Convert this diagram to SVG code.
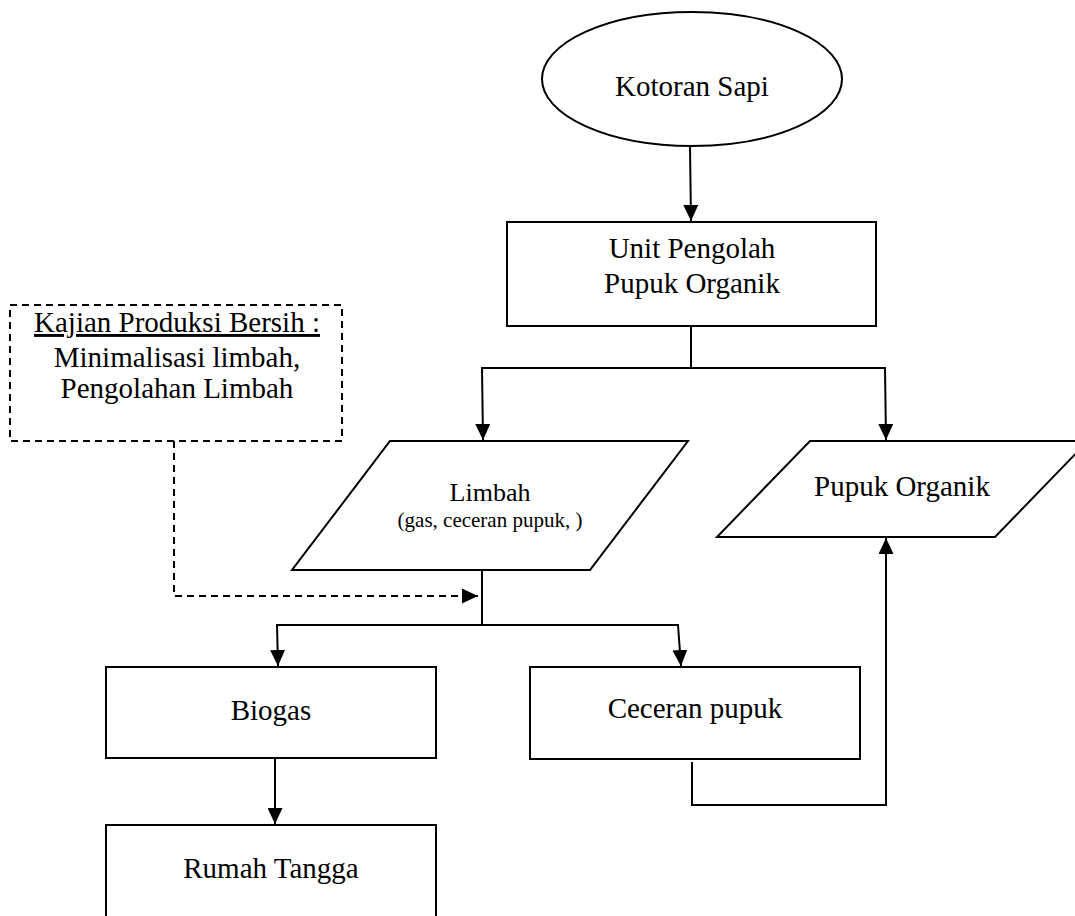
<svg xmlns="http://www.w3.org/2000/svg" width="1075" height="916" viewBox="0 0 1075 916">
<defs>
<style>
.s{fill:#fff;stroke:#000;stroke-width:2}
.c{fill:none;stroke:#000;stroke-width:2}
.d{fill:none;stroke:#000;stroke-width:2;stroke-dasharray:7 5}
.t{font-family:"Liberation Serif","Times New Roman",serif;font-size:29px;fill:#000;text-anchor:middle}
</style>
<marker id="ah" viewBox="0 0 16 15" refX="16" refY="7.5" markerWidth="16" markerHeight="15" markerUnits="userSpaceOnUse" orient="auto">
<path d="M0,0 L16,7.5 L0,15 Z" fill="#000"/>
</marker>
</defs>
<rect width="1075" height="916" fill="#fff"/>
<g id="connectors">
<line class="c" x1="690" y1="147" x2="691" y2="221" marker-end="url(#ah)"/>
<line class="c" x1="691" y1="326" x2="691" y2="368" stroke-width="1.5"/>
<line class="c" x1="481" y1="368" x2="886" y2="368"/>
<line class="c" x1="482" y1="368" x2="483" y2="440" marker-end="url(#ah)"/>
<line class="c" x1="885" y1="368" x2="886" y2="440" marker-end="url(#ah)"/>
<line class="c" x1="482" y1="570" x2="482" y2="625"/>
<line class="c" x1="276" y1="625" x2="679" y2="625"/>
<line class="c" x1="277" y1="625" x2="278" y2="666" marker-end="url(#ah)"/>
<line class="c" x1="678" y1="625" x2="681" y2="666" marker-end="url(#ah)"/>
<line class="c" x1="275" y1="758" x2="275" y2="824" marker-end="url(#ah)"/>
<polyline class="c" points="692,762 692,805 886,805 886,538" marker-end="url(#ah)"/>
<polyline class="d" points="174,441 174,596 478,596" marker-end="url(#ah)"/>
</g>
<g id="kotoran-sapi">
<ellipse class="s" cx="692" cy="79" rx="150" ry="67"/>
<text class="t" x="692" y="96">Kotoran Sapi</text>
</g>
<g id="unit-pengolah">
<rect class="s" x="507" y="222" width="369" height="104"/>
<text class="t" x="692" y="258">Unit Pengolah</text>
<text class="t" x="692" y="293">Pupuk Organik</text>
</g>
<g id="kajian">
<rect class="d" x="10" y="305" width="332" height="136"/>
<text class="t" x="177" y="332" text-decoration="underline">Kajian Produksi Bersih :</text>
<text class="t" x="177" y="367">Minimalisasi limbah,</text>
<text class="t" x="177" y="398">Pengolahan Limbah</text>
</g>
<g id="limbah">
<polygon class="s" points="390,441 688,441 590,570 292,570"/>
<text class="t" x="490" y="501" style="font-size:26px">Limbah</text>
<text class="t" x="490" y="527" style="font-size:21px">(gas, ceceran pupuk, )</text>
</g>
<g id="pupuk-organik">
<polygon class="s" points="810,441 1088,441 995,537 717,537"/>
<text class="t" x="902" y="496">Pupuk Organik</text>
</g>
<g id="biogas">
<rect class="s" x="106" y="667" width="330" height="91"/>
<text class="t" x="271" y="720">Biogas</text>
</g>
<g id="ceceran-pupuk">
<rect class="s" x="530" y="667" width="330" height="92"/>
<text class="t" x="695" y="718">Ceceran pupuk</text>
</g>
<g id="rumah-tangga">
<rect class="s" x="106" y="825" width="330" height="100"/>
<text class="t" x="271" y="878">Rumah Tangga</text>
</g>
</svg>
